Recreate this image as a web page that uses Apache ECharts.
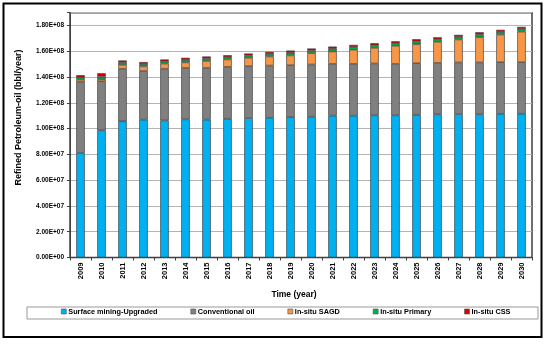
<!DOCTYPE html>
<html><head><meta charset="utf-8">
<script src="https://cdn.jsdelivr.net/npm/echarts@6/dist/echarts.min.js"></script>
<style>html,body{margin:0;padding:0;background:#fff}#c{width:550px;height:346px}</style>
</head><body><div id="c"></div>
<script>
const years = ['2009','2010','2011','2012','2013','2014','2015','2016','2017','2018','2019','2020','2021','2022','2023','2024','2025','2026','2027','2028','2029','2030'];
// values in bbl/year
const surfaceMining = [81.1e6,98.7e6,105.7e6,107.0e6,106.4e6,107.2e6,107.0e6,107.7e6,108.2e6,108.5e6,109.0e6,109.3e6,110.1e6,110.1e6,110.3e6,110.3e6,110.8e6,111.1e6,111.3e6,111.1e6,111.6e6,111.6e6];
const conventionalOil = [55.2e6,38.1e6,40.8e6,37.8e6,40.1e6,40.0e6,40.2e6,40.3e6,40.3e6,40.5e6,40.3e6,40.5e6,40.2e6,40.2e6,40.3e6,40.0e6,40.0e6,40.0e6,40.1e6,40.3e6,40.0e6,40.0e6];
const insituSAGD = [1.7e6,1.6e6,3.0e6,3.5e6,4.0e6,4.2e6,5.3e6,5.7e6,6.5e6,7.0e6,7.5e6,8.8e6,9.6e6,10.9e6,12.1e6,14.0e6,14.7e6,16.3e6,17.8e6,19.5e6,21.4e6,23.7e6];
const insituPrimary = [1.8e6,2.0e6,1.8e6,1.8e6,1.7e6,1.9e6,1.9e6,1.8e6,1.8e6,2.0e6,2.1e6,2.0e6,2.1e6,2.1e6,2.0e6,2.0e6,2.2e6,2.0e6,2.0e6,2.2e6,2.1e6,2.1e6];
const insituCSS = [1.7e6,2.6e6,1.6e6,1.6e6,1.5e6,1.7e6,1.6e6,1.5e6,1.5e6,1.6e6,1.7e6,1.6e6,1.7e6,1.7e6,1.6e6,1.5e6,1.7e6,1.5e6,1.6e6,1.7e6,1.6e6,1.6e6];
const seriesNames = ['Surface mining-Upgraded','Conventional oil','In-situ SAGD','In-situ Primary','In-situ CSS'];
const seriesColors = ['#00B0F0','#808080','#F79646','#00B050','#E00000'];
const seriesData = [surfaceMining, conventionalOil, insituSAGD, insituPrimary, insituCSS];
const yTitle = 'Refined Petroleum-oil (bbl/year)';
const xTitle = 'Time (year)';

const FONT = '"Liberation Sans", Arial, sans-serif';
function fmt(v){
  if (v > 1.85e8) return '';
  const s = v.toExponential(2).split('e');
  const e = parseInt(s[1],10);
  const es = (e<0?'-':'+') + String(Math.abs(e)).padStart(2,'0');
  return s[0] + 'E' + es;
}
const chart = echarts.init(document.getElementById('c'), null, {renderer:'canvas'});
chart.setOption({
  animation:false,
  backgroundColor:'#fff',
  grid:{left:70,right:18,top:12.7,bottom:88.5,show:true,borderColor:'#404040',borderWidth:1.5,backgroundColor:'#fff'},
  legend:{
    data:seriesNames, left:61, top:308, itemGap:33, itemWidth:5, itemHeight:5, padding:0,
    icon:'rect',
    itemStyle:{borderColor:'#555',borderWidth:0.6},
    textStyle:{fontFamily:FONT,fontWeight:'bold',fontSize:7.3,color:'#000',padding:[0,0,0,-3]}
  },
  xAxis:{
    type:'category', data:years,
    axisLine:{lineStyle:{color:'#404040',width:1}},
    axisTick:{show:true,length:3,lineStyle:{color:'#404040'}},
    axisLabel:{rotate:90,fontFamily:FONT,fontWeight:'bold',fontSize:7.5,color:'#000',margin:5}
  },
  yAxis:{
    type:'value', min:0, max:1.9e8, interval:2e7,
    axisLine:{show:true,lineStyle:{color:'#404040',width:1}},
    axisTick:{show:true,length:3,lineStyle:{color:'#404040'}},
    splitLine:{lineStyle:{color:'#B4B4B4',width:1}},
    axisLabel:{formatter:fmt,fontFamily:FONT,fontWeight:'bold',fontSize:6.5,color:'#000',margin:6}
  },
  series: seriesNames.map((n,i)=>({
    name:n, type:'bar', stack:'total', data:seriesData[i], barWidth:8.5,
    itemStyle:{color:seriesColors[i],borderColor:'#333',borderWidth:0.6}
  })),
  graphic:[
    {type:'rect',shape:{x:3.5,y:3.5,width:538,height:333.5},style:{fill:'none',stroke:'#000',lineWidth:2},z:100},
    {type:'rect',shape:{x:27,y:307,width:511,height:12},style:{fill:'none',stroke:'#999',lineWidth:1},z:1},
    {type:'text',x:294,y:295,style:{text:xTitle,font:'bold 8.5px '+FONT,fill:'#000',textAlign:'center',textVerticalAlign:'middle'}},
    {type:'text',x:19,y:117.5,rotation:Math.PI/2,style:{text:yTitle,font:'bold 9px '+FONT,fill:'#000',textAlign:'center',textVerticalAlign:'middle'}}
  ]
});
</script></body></html>
